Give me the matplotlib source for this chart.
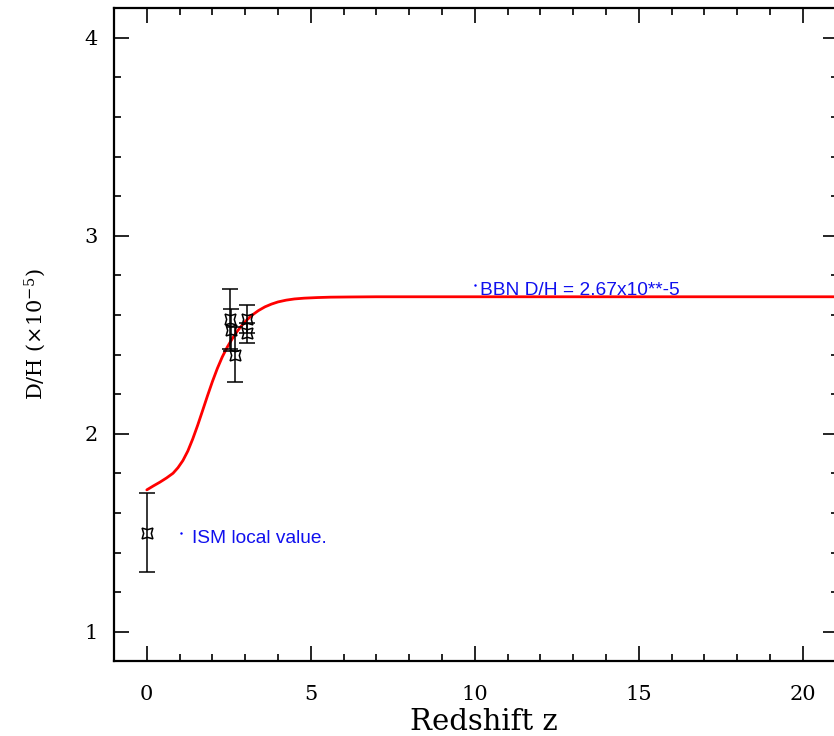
import matplotlib
matplotlib.use("Agg")
import matplotlib.pyplot as plt
from matplotlib.ticker import MultipleLocator

# model curve D/H vs redshift
curve_z = [0.0, 0.2, 0.4, 0.6, 0.8, 0.95, 1.1, 1.25, 1.4, 1.55, 1.7, 1.85, 2.0,
           2.15, 2.3, 2.45, 2.6, 2.75, 2.9, 3.05, 3.2, 3.4, 3.6, 3.8, 4.0, 4.25,
           4.5, 4.8, 5.2, 5.6, 6.2, 7.0, 10.0, 15.0, 21.5]
curve_dh = [1.717, 1.737, 1.756, 1.777, 1.801, 1.829, 1.865, 1.913, 1.974, 2.043,
            2.117, 2.192, 2.264, 2.330, 2.388, 2.437, 2.479, 2.516, 2.548, 2.575,
            2.598, 2.622, 2.641, 2.655, 2.666, 2.675, 2.681, 2.685, 2.688, 2.690,
            2.691, 2.692, 2.692, 2.692, 2.692]

# measurements
obs_z = [0.0, 2.53, 2.58, 2.68, 3.05, 3.06]
obs_dh = [1.50, 2.58, 2.525, 2.40, 2.58, 2.51]
obs_err = [0.20, 0.15, 0.105, 0.14, 0.07, 0.05]

# labels
labels = ["BBN D/H = 2.67x10**-5", "ISM local value."]
label_z = [10.15, 1.37]
label_dh = [2.70, 1.45]
dot_z = [10.0, 1.05]
dot_dh = [2.75, 1.50]

plt.rcParams['mathtext.fontset'] = 'dejavuserif'

fig = plt.figure(figsize=(8.34, 7.36), dpi=100)
ax = fig.add_axes([114/834, 1 - 661/736, 724/834, 653/736])

ax.plot(curve_z, curve_dh, color='red', lw=2.0, zorder=2,
        solid_joinstyle='round', solid_capstyle='round')
ax.errorbar(obs_z, obs_dh, yerr=obs_err, fmt='none', ecolor='black',
            elinewidth=1.1, capsize=6, capthick=1.1, zorder=3)
ax.plot(obs_z, obs_dh, ls='none', marker=(4, 1, 45), ms=11, mfc='none',
        mec='black', mew=1.1, zorder=4)

for t, x, y in zip(labels, label_z, label_dh):
    ax.text(x, y, t, color='#1010ee', fontsize=13.8, family='Liberation Sans',
            ha='left', va='baseline')
ax.plot(dot_z, dot_dh, ls='none', marker='.', ms=1.5, color='blue')

ax.set_xlim(-1, 21.07)
ax.set_ylim(0.853, 4.15)

ax.xaxis.set_major_locator(MultipleLocator(5))
ax.xaxis.set_minor_locator(MultipleLocator(1))
ax.yaxis.set_major_locator(MultipleLocator(1))
ax.yaxis.set_minor_locator(MultipleLocator(0.2))
ax.tick_params(which='both', direction='in', top=True, right=True, width=1.2,
               labelsize=15)
ax.tick_params(axis='x', pad=17)
ax.tick_params(axis='y', pad=12)
ax.tick_params(which='major', length=10.5)
ax.tick_params(which='minor', length=5)
for lab in ax.get_xticklabels() + ax.get_yticklabels():
    lab.set_family('DejaVu Serif')
for s in ax.spines.values():
    s.set_linewidth(1.6)

ax.set_xlabel('Redshift z', fontsize=21, family='DejaVu Serif', va='baseline')
ax.xaxis.set_label_coords(0.511, -0.1057)
ax.set_ylabel(r'D/H ($\times$10$^{-5}$)', fontsize=15, family='DejaVu Serif',
              labelpad=26)

fig.savefig('out.png', dpi=100)
